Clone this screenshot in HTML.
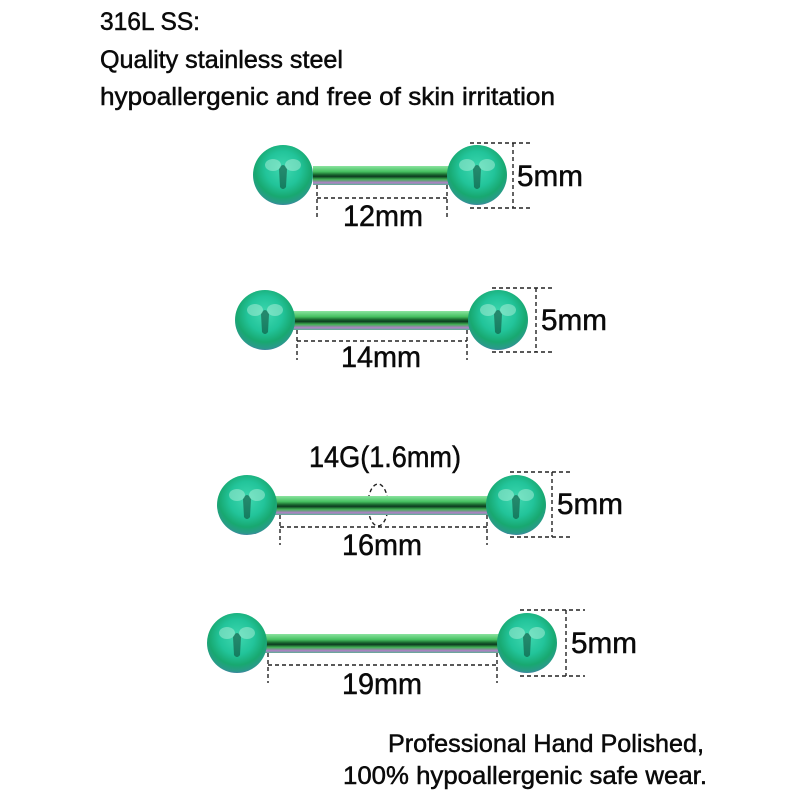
<!DOCTYPE html>
<html><head><meta charset="utf-8"><style>
html,body{margin:0;padding:0;background:#fff;}
svg{display:block;}
text{font-family:"Liberation Sans",sans-serif;fill:#0a0a0a;stroke:#0a0a0a;stroke-width:0.5;}
</style></head><body>
<svg width="800" height="800" viewBox="0 0 800 800" xmlns="http://www.w3.org/2000/svg">
<defs>
<radialGradient id="ball" cx="0.5" cy="0.4" r="0.65">
<stop offset="0" stop-color="#3fd8b0"/>
<stop offset="0.45" stop-color="#22c49a"/>
<stop offset="0.72" stop-color="#18a870"/>
<stop offset="0.88" stop-color="#2a9a8a"/>
<stop offset="1" stop-color="#6a5cc8"/>
</radialGradient>
<linearGradient id="bar" x1="0" y1="0" x2="0" y2="1">
<stop offset="0" stop-color="#8be3a0"/>
<stop offset="0.3" stop-color="#45c060"/>
<stop offset="0.45" stop-color="#1a6a30"/>
<stop offset="0.55" stop-color="#0c3a20"/>
<stop offset="0.7" stop-color="#3fb050"/>
<stop offset="0.88" stop-color="#b080c8"/>
<stop offset="1" stop-color="#5ab090"/>
</linearGradient>
<g id="dk"><path d="M-4 -6 Q0 -14 4 -6 L3 12 Q0 16 -3 12Z" fill="#0a3a2a" opacity="0.5"/><ellipse cx="-10" cy="-10" rx="8" ry="6" fill="#bff5e0" opacity="0.45"/><ellipse cx="10" cy="-10" rx="8" ry="6" fill="#bff5e0" opacity="0.45"/></g>
</defs>

<g font-size="25">
<text x="100" y="30" textLength="100" lengthAdjust="spacingAndGlyphs">316L SS:</text>
<text x="100" y="68" textLength="243" lengthAdjust="spacingAndGlyphs">Quality stainless steel</text>
<text x="100" y="105" textLength="455" lengthAdjust="spacingAndGlyphs">hypoallergenic and free of skin irritation</text>
<text x="388" y="752" textLength="316" lengthAdjust="spacingAndGlyphs">Professional Hand Polished,</text>
<text x="343" y="784" textLength="364" lengthAdjust="spacingAndGlyphs">100% hypoallergenic safe wear.</text>
</g>

<g stroke="#222" stroke-width="1.4" stroke-dasharray="4,3" fill="none">
<path d="M317 185V218 M447 185V218 M317 198H447 M470 143H532 M470 208H532 M513 143V208"/>
<path d="M297 330V360 M467 330V360 M297 341H467 M492 288H552 M492 352H552 M536 288V352"/>
<path d="M280 515V545 M487 515V545 M280 527H487 M510 472H572 M510 537H572 M552 472V537"/>
<ellipse cx="378" cy="505" rx="10" ry="21"/>
<path d="M268 653V683 M497 653V683 M268 665H497 M520 610H585 M520 676H585 M566 610V676"/>
</g>

<rect x="313" y="166" width="138" height="19" fill="url(#bar)"/>
<circle cx="283" cy="175" r="30" fill="url(#ball)"/>
<circle cx="477" cy="175" r="30" fill="url(#ball)"/>
<rect x="292" y="311" width="180" height="19" fill="url(#bar)"/>
<circle cx="265" cy="320" r="30" fill="url(#ball)"/>
<circle cx="498" cy="320" r="30" fill="url(#ball)"/>
<rect x="275" y="496" width="216" height="19" fill="url(#bar)"/>
<circle cx="247" cy="505" r="30" fill="url(#ball)"/>
<circle cx="516" cy="505" r="30" fill="url(#ball)"/>
<rect x="263" y="634" width="238" height="19" fill="url(#bar)"/>
<circle cx="237" cy="643" r="30" fill="url(#ball)"/>
<circle cx="527" cy="643" r="30" fill="url(#ball)"/>

<use href="#dk" x="283" y="175"/><use href="#dk" x="477" y="175"/>
<use href="#dk" x="265" y="320"/><use href="#dk" x="498" y="320"/>
<use href="#dk" x="247" y="505"/><use href="#dk" x="516" y="505"/>
<use href="#dk" x="237" y="643"/><use href="#dk" x="527" y="643"/>

<g font-size="30">
<text x="517" y="186" textLength="66" lengthAdjust="spacingAndGlyphs">5mm</text>
<text x="343" y="226" textLength="80" lengthAdjust="spacingAndGlyphs">12mm</text>
<text x="541" y="330" textLength="66" lengthAdjust="spacingAndGlyphs">5mm</text>
<text x="341" y="367" textLength="80" lengthAdjust="spacingAndGlyphs">14mm</text>
<text x="557" y="514" textLength="66" lengthAdjust="spacingAndGlyphs">5mm</text>
<text x="342" y="555" textLength="80" lengthAdjust="spacingAndGlyphs">16mm</text>
<text x="309" y="467" textLength="152" lengthAdjust="spacingAndGlyphs">14G(1.6mm)</text>
<text x="571" y="653" textLength="66" lengthAdjust="spacingAndGlyphs">5mm</text>
<text x="342" y="694" textLength="80" lengthAdjust="spacingAndGlyphs">19mm</text>
</g>
</svg>
</body></html>
